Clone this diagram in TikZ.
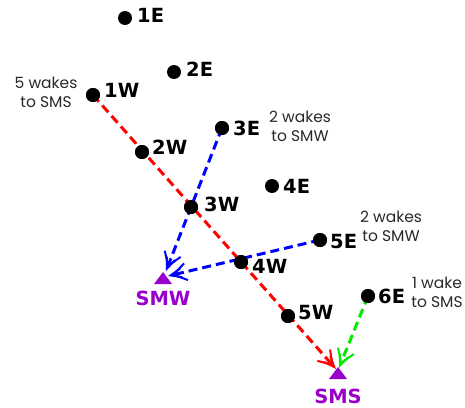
\documentclass[tikz,border=0pt]{standalone}
\usepackage{fontspec}
\setmainfont{DejaVu Sans}
\newfontfamily\notefont{Poppins}
\usetikzlibrary{arrows.meta,calc}
\definecolor{smpurple}{RGB}{153,0,204}
\definecolor{notegray}{RGB}{40,40,40}
\definecolor{wgreen}{RGB}{0,235,0}
\tikzset{
  dot/.style={circle,fill=black,inner sep=0pt,minimum size=14pt},
  tag/.style={anchor=west,inner sep=0pt,font=\fontsize{19.5}{19.5}\selectfont\bfseries},
  note/.style={align=center,inner sep=0pt,text=notegray,font=\notefont\fontsize{15.5}{19}\selectfont},
  wake/.style={line width=3pt,dash pattern=on 9pt off 5pt,-{Straight Barb[length=13pt,width=17pt,line width=2pt,sep=-11pt]Straight Barb[length=11pt,width=9pt,line width=2pt]}},
  sta/.style={font=\fontsize{19.5}{19.5}\selectfont\bfseries,text=smpurple,inner sep=0pt}
}
\begin{document}
\begin{tikzpicture}[x=1pt,y=-1pt]
\useasboundingbox (0,0) rectangle (465,407);
% stations
\coordinate (smw) at (163,278);
\coordinate (sms) at (338,373);
\fill[smpurple] ($(smw)+(-9,6)$) -- ($(smw)+(9,6)$) -- ($(smw)+(0,-6)$) -- cycle;
\fill[smpurple] ($(sms)+(-9,6)$) -- ($(sms)+(9,6)$) -- ($(sms)+(0,-6)$) -- cycle;
\node[sta] (smwl) at (163,298) {SMW};
\node[sta] (smsl) at (338,396) {SMS};
% points
\node[dot] (e1) at (125,18) {};
\node[dot] (e2) at (174,72) {};
\node[dot] (w1) at (93,95) {};
\node[dot] (w2) at (142,152) {};
\node[dot] (e3) at (222,128) {};
\node[dot] (e4) at (272,186) {};
\node[dot] (w3) at (191,207) {};
\node[dot] (e5) at (320,240) {};
\node[dot] (w4) at (241,262) {};
\node[dot] (w5) at (288,316) {};
\node[dot] (e6) at (368,296) {};
\coordinate (smsa) at (336,369);
\coordinate (smsb) at (339,368);
\coordinate (smwa) at (166,271);
\coordinate (smwb) at (168,276);
% wakes
\draw[wake,red] (w1.center) -- (smsa);
\draw[wake,blue] (e3.center) -- (smwa);
\draw[wake,blue] (e5.center) -- (smwb);
\draw[wake,wgreen] (e6.center) -- (smsb);
\foreach \n in {w1,w2,w3,w4,w5,e3,e5,e6} \fill (\n) circle (7pt);
% labels
\node[tag] (le1) at (137,15) {1E};
\node[tag] (le2) at (186,69) {2E};
\node[tag] (lw1) at (104,90) {1W};
\node[tag] (lw2) at (152,147) {2W};
\node[tag] (le3) at (233,128) {3E};
\node[tag] (le4) at (283,186) {4E};
\node[tag] (lw3) at (204,204) {3W};
\node[tag] (le5) at (330,242) {5E};
\node[tag] (lw4) at (252,266) {4W};
\node[tag] (lw5) at (298,313) {5W};
\node[tag] (le6) at (378,296) {6E};
% notes
\node[note] (n1) at (46,92) {5 wakes\\to SMS};
\node[note] (n2) at (300,126) {2 wakes\\to SMW};
\node[note] (n3) at (391,226) {2 wakes\\to SMW};
\node[note] (n4) at (437,292) {1 wake\\to SMS};
\end{tikzpicture}
\end{document}
